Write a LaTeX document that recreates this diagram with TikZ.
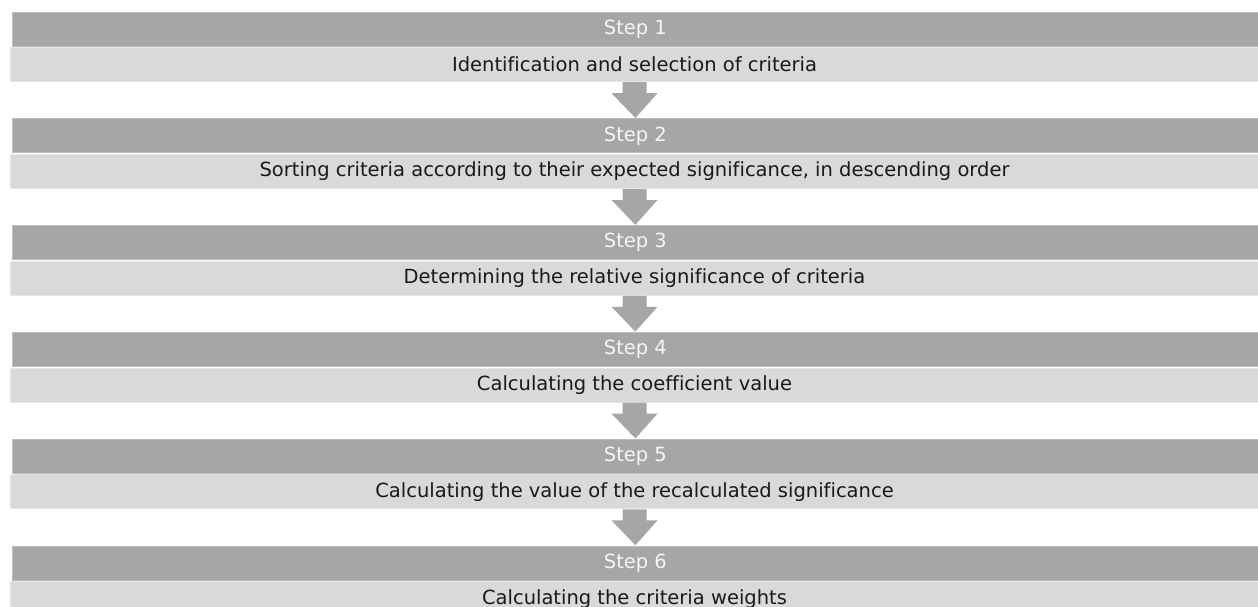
\documentclass[tikz,border=0pt]{standalone}
\usepackage{fontspec}
\setmainfont{DejaVu Sans}[Ligatures=NoCommon]
\usetikzlibrary{calc}
\definecolor{headgray}{HTML}{A6A6A6}
\definecolor{bodygray}{HTML}{D9D9D9}
\definecolor{bodyedge}{HTML}{E6E6E6}
\definecolor{headedge}{HTML}{BDBDBD}
\begin{document}
\begin{tikzpicture}[x=1pt,y=-1pt,
  headbox/.style={fill=headgray,draw=headedge,line width=0.8pt,minimum width=1246pt,minimum height=34pt,
    inner sep=0pt,anchor=north west,text=white!96!black,font=\fontsize{19.5}{22}\selectfont},
  bodybox/.style={fill=bodygray,draw=bodyedge,line width=1pt,minimum width=1248pt,minimum height=34pt,
    inner sep=0pt,anchor=north west,text=black!90,font=\fontsize{19.5}{22}\selectfont},
  flowarrow/.style={fill=headgray}]
\clip (0,0) rectangle (1258,607);
\fill[white] (0,0) rectangle (1258,607);
\foreach \i/\txt in {1/{Identification and selection of criteria},
  2/{Sorting criteria according to their expected significance, in descending order},
  3/{Determining the relative significance of criteria},
  4/{Calculating the coefficient value},
  5/{Calculating the value of the recalculated significance},
  6/{Calculating the criteria weights}}{
  \pgfmathsetmacro{\top}{11.7+106.8*(\i-1)}
  \node[headbox] (h\i) at (12,\top) {Step \i};
  \node[bodybox] (b\i) at (10,\top+35.5) {\txt};
}
% block arrows between consecutive steps
\foreach \i [evaluate=\i as \j using int(\i+1)] in {1,...,5}{
  \fill[flowarrow] ($(b\i.south)+(-12,0)$) -- ($(b\i.south)+(12,0)$)
    -- ($(b\i.south)+(12,11)$) -- ($(b\i.south)+(23,11)$)
    -- ($(h\j.north)+(0,-0.5)$)
    -- ($(b\i.south)+(-23,11)$) -- ($(b\i.south)+(-12,11)$) -- cycle;
}
\end{tikzpicture}
\end{document}
